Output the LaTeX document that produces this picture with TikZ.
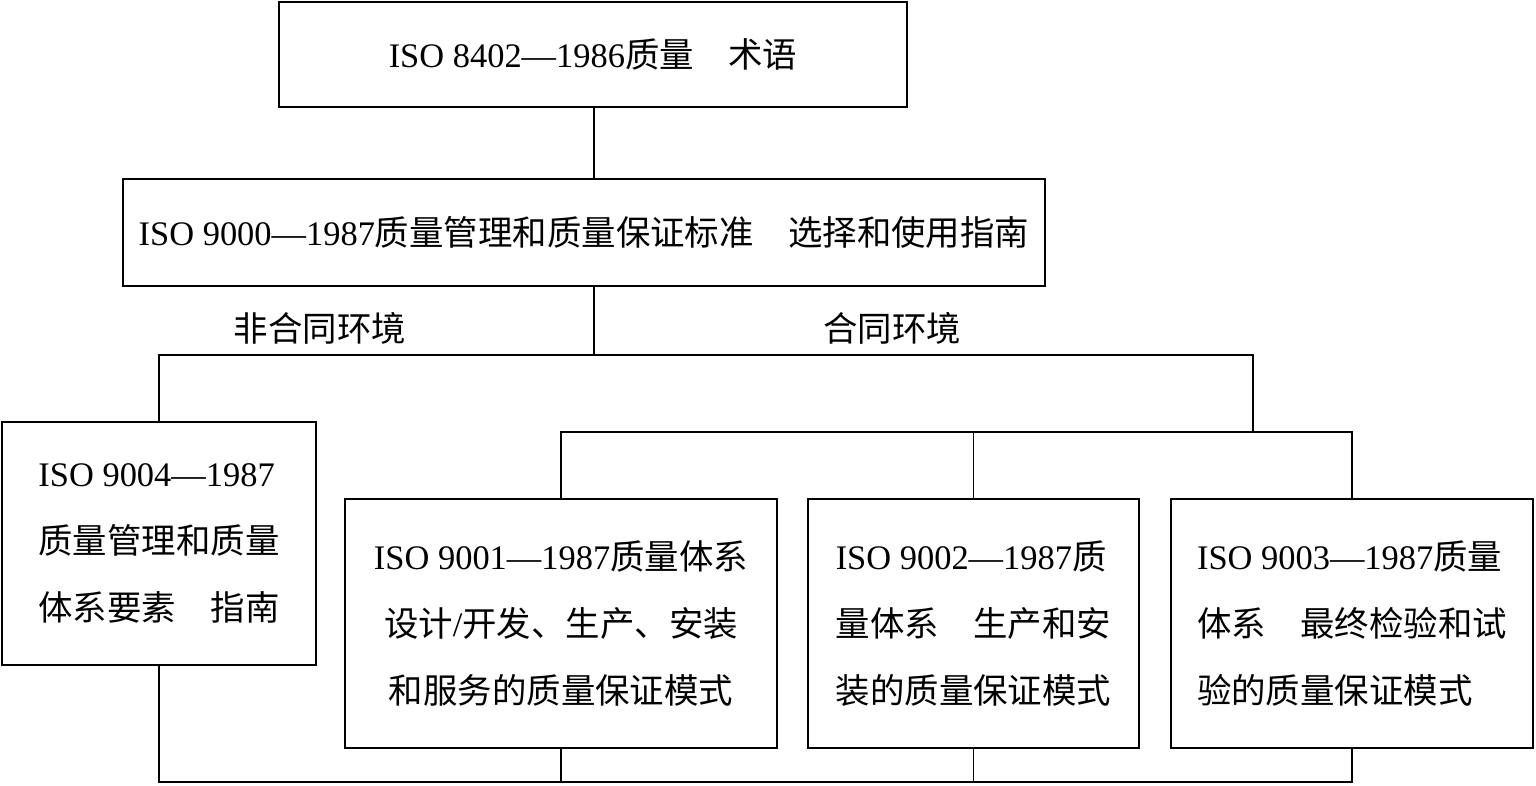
\documentclass[tikz,border=0pt]{standalone}
\usepackage{fontspec}
\setmainfont{Noto Sans CJK SC}
\newfontfamily\lat{Liberation Serif}
\usetikzlibrary{positioning}

\begin{document}
\begin{tikzpicture}[
  x=0.02cm, y=-0.02cm,
  box/.style={draw, line width=1.6pt, inner sep=0pt, align=left,
              font=\fontsize{19.6}{38}\selectfont},
  link/.style={line width=0.8pt},
  tag/.style={font=\fontsize{19.6}{24}\selectfont, inner sep=0pt}
]
\useasboundingbox (0,0) rectangle (1536,785);

\node[box, minimum width=12.56cm, minimum height=2.10cm] (iso8402) at (593,54.5)
  {{\lat ISO 8402—1986}质量　术语};
\node[box, minimum width=18.44cm, minimum height=2.14cm] (iso9000) at (584,232.5)
  {{\lat ISO 9000—1987}质量管理和质量保证标准　选择和使用指南};

\node[box, minimum width=6.28cm, minimum height=4.86cm] (iso9004) at (159,543.5)
  {{\lat ISO 9004—1987}\\质量管理和质量\\体系要素　指南};
\node[box, align=center, minimum width=8.64cm, minimum height=4.98cm] (iso9001) at (561,623.5)
  {{\lat ISO 9001—1987}质量体系\\设计{\lat /}开发、生产、安装\\和服务的质量保证模式};
\node[box, minimum width=6.62cm, minimum height=4.98cm] (iso9002) at (973.5,623.5)
  {{\lat ISO 9002—1987}质\\量体系　生产和安\\装的质量保证模式};
\node[box, minimum width=7.24cm, minimum height=4.98cm] (iso9003) at (1352,623.5)
  {{\lat ISO 9003—1987}质量\\体系　最终检验和试\\验的质量保证模式};

\node[tag] (noncontract) at (320,328) {非合同环境};
\node[tag] (contracttag) at (892,328) {合同环境};

\coordinate (split) at (594,355);
\coordinate (contract) at (1253,432);
\coordinate (base) at (0,782);

\draw[link] (split |- iso8402.south) -- (split |- iso9000.north);
\draw[link] (split |- iso9000.south) -- (split);
\draw[link] (iso9004.north) |- (split) -| (contract);
\draw[link] (iso9001.north) |- (iso9003.north |- contract) -- (iso9003.north);
\draw[link] (iso9002.north) -- (iso9002.north |- contract);
\draw[link] (iso9004.south) |- (iso9003.south |- base) -- (iso9003.south);
\draw[link] (iso9001.south) -- (iso9001.south |- base);
\draw[link] (iso9002.south) -- (iso9002.south |- base);
\end{tikzpicture}
\end{document}
